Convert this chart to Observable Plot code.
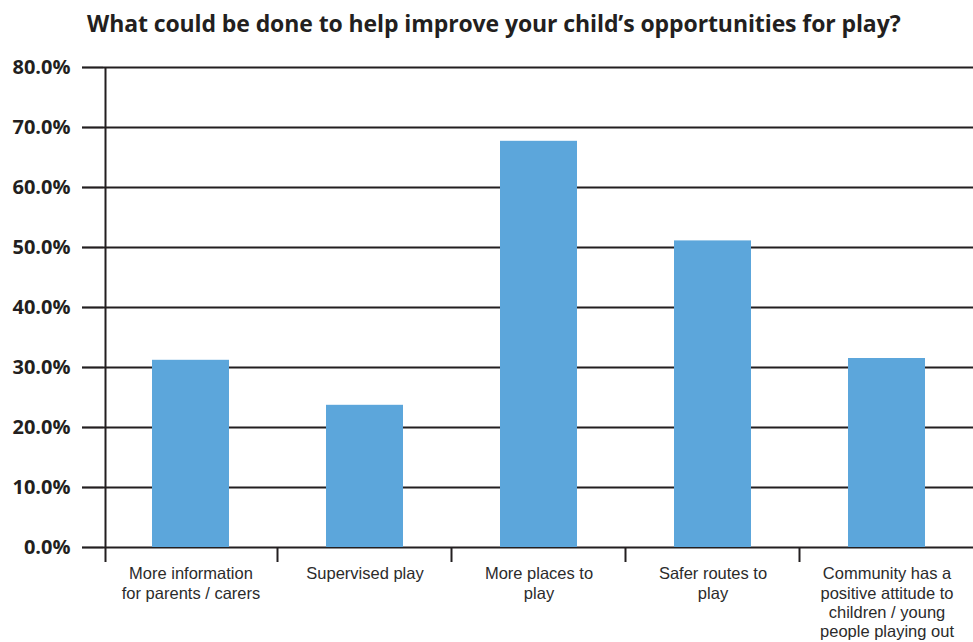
<!DOCTYPE html>
<html><head><meta charset="utf-8">
<script src="https://cdn.jsdelivr.net/npm/d3@7"></script>
<script src="https://cdn.jsdelivr.net/npm/@observablehq/plot@0.6"></script>
<style>
body{margin:0;background:#fff;width:973px;height:642px;overflow:hidden;}
#title{height:50px;box-sizing:border-box;padding-top:9px;padding-left:87px;font-family:"Open Sans",sans-serif;font-weight:700;font-size:23px;line-height:28px;color:#231f20;white-space:nowrap;letter-spacing:-0.1px;}
#chart svg{display:block;}
</style></head><body>
<div id="title">What could be done to help improve your child’s opportunities for play?</div>
<div id="chart"></div>
<script>
const categories = ["More information\nfor parents / carers", "Supervised play", "More places to\nplay", "Safer routes to\nplay", "Community has a\npositive attitude to\nchildren / young\npeople playing out"];
const values = [31.2, 23.7, 67.7, 51.1, 31.5];
const yTicks = [0, 10, 20, 30, 40, 50, 60, 70, 80];

const data = categories.map((c, i) => ({category: c, value: values[i]}));
const ink = "#231f20";
const pad = 0.56;

const axisLines = (index, scales, vals, dimensions) => {
  const {x, y} = scales;
  const g = d3.create("svg:g").attr("stroke", ink).attr("stroke-width", 2).attr("fill", "none");
  const bw = x.bandwidth();
  const step = x(categories[1]) - x(categories[0]);
  const half = (step - bw) / 2;
  const y0 = y(0), yTop = y(yTicks[yTicks.length - 1]);
  const xl = x(categories[0]) - half + 2;
  g.append("line").attr("x1", xl).attr("x2", xl).attr("y1", yTop).attr("y2", y0 + 15);
  categories.slice(1).forEach(c => {
    const xs = x(c) - half;
    g.append("line").attr("x1", xs).attr("x2", xs).attr("y1", y0).attr("y2", y0 + 15);
  });
  return g.node();
};

const chart = Plot.plot({
  width: 973,
  height: 592,
  marginTop: 17,
  marginBottom: 95,
  marginLeft: 103,
  marginRight: 0,
  style: {background: "#fff"},
  x: {domain: categories, paddingInner: pad, paddingOuter: pad / 2, axis: null},
  y: {domain: [0, 80], axis: null},
  marks: [
    Plot.ruleY(yTicks, {stroke: ink, strokeWidth: 2.2}),
    Plot.axisY(yTicks, {tickSize: 21, tickPadding: 12, tickFormat: d => d.toFixed(1) + "%", fontSize: 20, fontWeight: "bold", fontFamily: "Open Sans", color: ink, strokeWidth: 2.2, label: null}),
    Plot.barY(data, {x: "category", y: "value", fill: "#5ca6db"}),
    axisLines,
    Plot.text(data, {x: "category", frameAnchor: "bottom", text: "category", lineAnchor: "top", dy: 18, fontSize: 16.5, lineHeight: 1.17, fill: "#2b2b2b", fontFamily: "Liberation Sans"})
  ]
});
document.getElementById("chart").append(chart);
</script>
</body></html>
